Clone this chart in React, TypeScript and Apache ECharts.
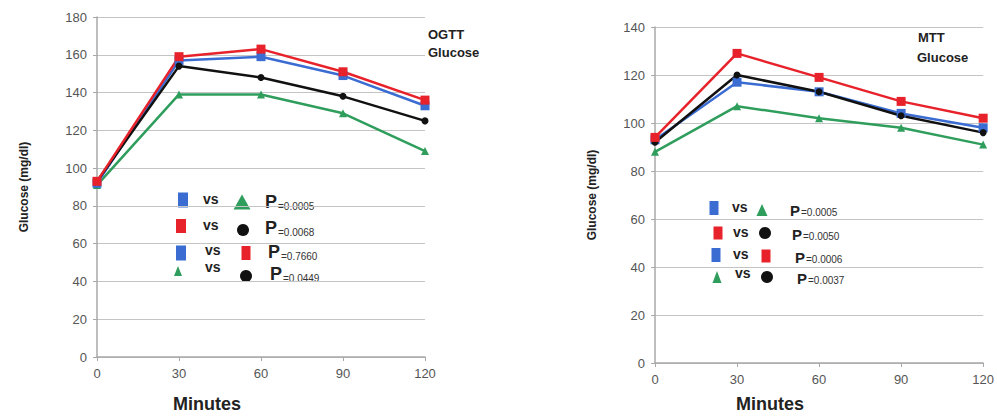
import React, { useEffect, useRef } from "react";
import * as echarts from "echarts";

const minutes = [0, 30, 60, 90, 120];

const ogttBlue = [92, 157, 159, 149, 133];
const ogttRed = [93, 159, 163, 151, 136];
const ogttBlack = [93, 154, 148, 138, 125];
const ogttGreen = [91, 139, 139, 129, 109];

const mttBlue = [93, 117, 113, 104, 98];
const mttRed = [94, 129, 119, 109, 102];
const mttBlack = [92, 120, 113, 103, 96];
const mttGreen = [88, 107, 102, 98, 91];

const ogttPairs = [["blue", "green"], ["red", "black"], ["blue", "red"], ["green", "black"]];
const ogttPValues = ["0.0005", "0.0068", "0.7660", "0.0449"];
const mttPairs = [["blue", "green"], ["red", "black"], ["blue", "red"], ["green", "black"]];
const mttPValues = ["0.0005", "0.0050", "0.0006", "0.0037"];

const COLORS: Record<string, string> = {
  blue: "#3a6cd2",
  red: "#e8222a",
  black: "#111111",
  green: "#2f9e5c",
};
const SYMBOLS: Record<string, string> = {
  blue: "rect",
  red: "rect",
  black: "circle",
  green: "triangle",
};

const FONT = "'Liberation Sans', Arial, sans-serif";

function pairs(ys: number[]) {
  return minutes.map((m, i) => [m, ys[i]]);
}

function symbolEl(kind: string, cx: number, cy: number, w: number, h: number) {
  const fill = COLORS[kind];
  if (kind === "black") {
    return { type: "circle", shape: { cx, cy, r: w / 2 }, style: { fill } };
  }
  if (kind === "green") {
    return {
      type: "polygon",
      shape: { points: [[cx, cy - h / 2], [cx + w / 2, cy + h / 2], [cx - w / 2, cy + h / 2]] },
      style: { fill },
    };
  }
  return { type: "rect", shape: { x: cx - w / 2, y: cy - h / 2, width: w, height: h }, style: { fill } };
}

type Row = { s1: [number, number, number, number]; vsX: number; vsY: number; s2: [number, number, number, number]; pX: number; pY: number };

function legendEls(prs: string[][], pv: string[], rows: Row[], pSize: number) {
  const els: any[] = [];
  rows.forEach((r, i) => {
    const [a, b] = prs[i];
    els.push(symbolEl(a, r.s1[0], r.s1[1], r.s1[2], r.s1[3]));
    els.push({
      type: "text",
      x: r.vsX,
      y: r.vsY,
      style: { text: "vs", fill: "#222", font: `bold 14px ${FONT}`, verticalAlign: "middle" },
    });
    els.push(symbolEl(b, r.s2[0], r.s2[1], r.s2[2], r.s2[3]));
    els.push({
      type: "text",
      x: r.pX,
      y: r.pY,
      style: {
        text: `{p|P}{s|=${pv[i]}}`,
        verticalAlign: "middle",
        rich: {
          p: { fontSize: pSize, fontFamily: FONT, fill: "#222", verticalAlign: "bottom", fontWeight: "bold" },
          s: { fontSize: 10, fontFamily: FONT, fill: "#333", verticalAlign: "bottom", padding: [0, 0, 0, 1] },
        },
      },
    });
  });
  return els;
}

const leftRows: Row[] = [
  { s1: [183, 200, 10, 15], vsX: 203, vsY: 199, s2: [242, 202, 17, 15], pX: 265, pY: 202 },
  { s1: [181, 226, 10, 14], vsX: 203, vsY: 225, s2: [243, 230, 12, 12], pX: 265, pY: 228 },
  { s1: [181, 253, 10, 15], vsX: 205, vsY: 250, s2: [246, 253, 9, 14], pX: 268, pY: 252 },
  { s1: [178, 271, 8, 10], vsX: 205, vsY: 267, s2: [246, 276, 12, 12], pX: 270, pY: 274 },
];

const rightRows: Row[] = [
  { s1: [714, 208, 9, 14], vsX: 732, vsY: 207, s2: [762, 210, 11, 12], pX: 790, pY: 210 },
  { s1: [718, 233, 9, 13], vsX: 733, vsY: 232, s2: [765, 233, 12, 12], pX: 792, pY: 234 },
  { s1: [716, 255, 9, 14], vsX: 733, vsY: 254, s2: [766, 256, 9, 13], pX: 795, pY: 257 },
  { s1: [717, 277, 9, 12], vsX: 735, vsY: 273, s2: [767, 277, 12, 12], pX: 797, pY: 278 },
];

function lineSeries(kind: string, ys: number[], idx: number) {
  return {
    type: "line",
    xAxisIndex: idx,
    yAxisIndex: idx,
    data: pairs(ys),
    symbol: SYMBOLS[kind],
    symbolSize: kind === "black" ? 7 : kind === "green" ? 8 : 9,
    showSymbol: true,
    color: COLORS[kind],
    lineStyle: { color: COLORS[kind], width: 2.5 },
    itemStyle: { color: COLORS[kind] },
    z: 2,
  };
}

function xAxis(idx: number) {
  return {
    type: "value",
    gridIndex: idx,
    min: 0,
    max: 120,
    interval: 30,
    axisLine: { show: true, lineStyle: { color: "#a8a8a8", width: 1.5 } },
    axisTick: { show: true, length: 4, lineStyle: { color: "#a8a8a8" } },
    axisLabel: { color: "#555", fontSize: 13, fontFamily: FONT, margin: 10 },
    splitLine: { show: false },
  };
}

function yAxis(idx: number, max: number, gap: number) {
  return {
    type: "value",
    gridIndex: idx,
    min: 0,
    max,
    interval: 20,
    name: "Glucose (mg/dl)",
    nameLocation: "middle",
    nameGap: gap,
    nameTextStyle: { color: "#222", fontSize: 12, fontWeight: "bold", fontFamily: FONT },
    axisLine: { show: true, lineStyle: { color: "#a8a8a8", width: 1.5 } },
    axisTick: { show: true, length: 4, lineStyle: { color: "#a8a8a8" } },
    axisLabel: { color: "#555", fontSize: 13, fontFamily: FONT, margin: 10 },
    splitLine: { show: true, lineStyle: { color: "#c4c4c4", width: 1.2 } },
  };
}

export default function App() {
  const ref = useRef<HTMLDivElement>(null);
  useEffect(() => {
    if (!ref.current) return;
    const chart = echarts.init(ref.current, undefined, { renderer: "svg" });
    const option: any = {
      animation: false,
      backgroundColor: "#ffffff",
      grid: [
        { left: 97, top: 17, width: 328, height: 340 },
        { left: 655, top: 27, width: 332, height: 336 },
      ],
      xAxis: [xAxis(0), xAxis(1)],
      yAxis: [yAxis(0, 180, 67), yAxis(1, 140, 57)],
      series: [
        lineSeries("green", ogttGreen, 0),
        lineSeries("blue", ogttBlue, 0),
        lineSeries("black", ogttBlack, 0),
        lineSeries("red", ogttRed, 0),
        lineSeries("green", mttGreen, 1),
        lineSeries("blue", mttBlue, 1),
        lineSeries("black", mttBlack, 1),
        lineSeries("red", mttRed, 1),
      ],
      graphic: [
        { type: "text", x: 428, y: 28, style: { text: "OGTT", font: `bold 13px ${FONT}`, fill: "#222" } },
        { type: "text", x: 428, y: 46, style: { text: "Glucose", font: `bold 13px ${FONT}`, fill: "#222" } },
        { type: "text", x: 918, y: 31, style: { text: "MTT", font: `bold 13px ${FONT}`, fill: "#222" } },
        { type: "text", x: 917, y: 51, style: { text: "Glucose", font: `bold 13px ${FONT}`, fill: "#222" } },
        { type: "text", x: 207, y: 404, style: { text: "Minutes", font: `bold 18px ${FONT}`, fill: "#222", align: "center", verticalAlign: "middle" } },
        { type: "text", x: 770, y: 404, style: { text: "Minutes", font: `bold 18px ${FONT}`, fill: "#222", align: "center", verticalAlign: "middle" } },
        ...legendEls(ogttPairs, ogttPValues, leftRows, 18),
        ...legendEls(mttPairs, mttPValues, rightRows, 15),
      ],
    };
    chart.setOption(option);
    return () => chart.dispose();
  }, []);
  return (
    <div
      ref={ref}
      style={{ position: "fixed", left: 0, top: 0, width: 997, height: 418, background: "#fff" }}
    />
  );
}
